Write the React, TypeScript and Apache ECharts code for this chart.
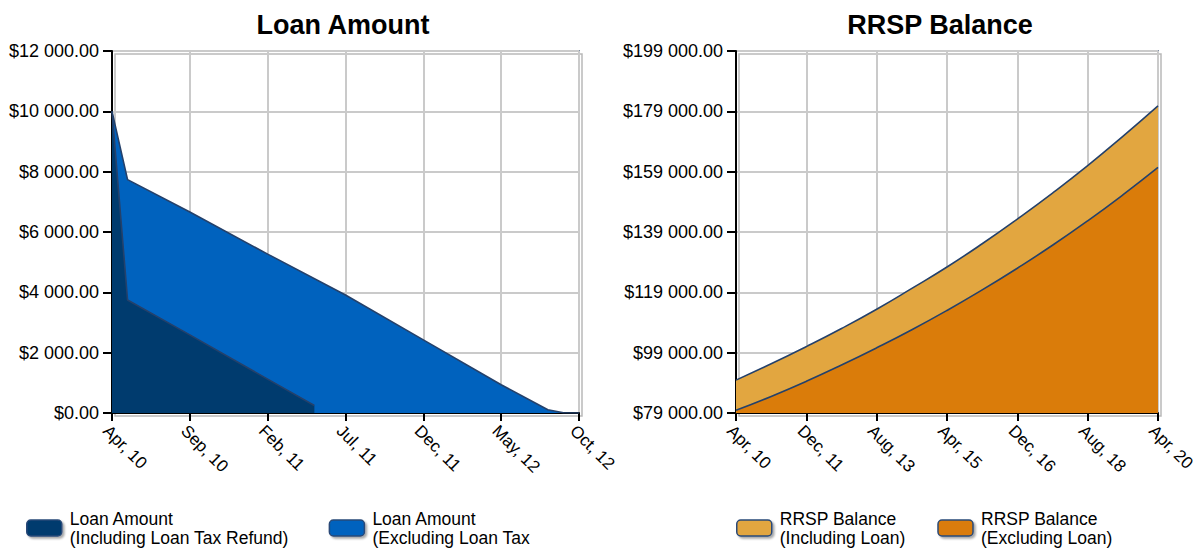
import React, { useEffect, useRef } from "react";
import * as echarts from "echarts";

// ---------- data ----------
const loanInclMonths = [0, 1, 5, 10, 13];
const loanInclValues = [10000, 3745, 2590, 1124, 251];
const loanExclMonths = [0, 1, 5, 10, 15, 20, 25, 28, 29, 30];
const loanExclValues = [10000, 7736, 6664, 5266, 3911, 2423, 936, 109, 10, 0];
const loanTickLabels = ["Apr, 10", "Sep, 10", "Feb, 11", "Jul, 11", "Dec, 11", "May, 12", "Oct, 12"];

const rrspMonths = [0, 10, 20, 30, 40, 50, 60, 70, 80, 90, 100, 110, 120];
const rrspInclValues = [89900, 95300, 101000, 107000, 113400, 120300, 127400, 135100, 143300, 151900, 161000, 170700, 180800];
const rrspExclValues = [79900, 84500, 89500, 94900, 100600, 106600, 113000, 119800, 127000, 134600, 142700, 151300, 160400];
const rrspTickLabels = ["Apr, 10", "Dec, 11", "Aug, 13", "Apr, 15", "Dec, 16", "Aug, 18", "Apr, 20"];

const loanNames = ["Loan Amount\n(Including Loan Tax Refund)", "Loan Amount\n(Excluding Loan Tax"];
const rrspNames = ["RRSP Balance\n(Including Loan)", "RRSP Balance\n(Excluding Loan)"];
const chartTitles = ["Loan Amount", "RRSP Balance"];

// ---------- styling ----------
const FONT = "'Liberation Sans', Arial, Helvetica, sans-serif";
const EDGE = "#24416B";

const money = (v: number) =>
  "$" + Math.round(v).toString().replace(/\B(?=(\d{3})+(?!\d))/g, " ") + ".00";

const zip = (xs: number[], ys: number[]) => xs.map((x, i) => [x, ys[i]]);

const gridBase = {
  top: 51,
  height: 362,
  show: true,
  borderColor: EDGE,
  borderWidth: 1.5,
  shadowColor: "rgba(0,0,0,0.28)",
  shadowOffsetX: 3,
  shadowOffsetY: 3,
  shadowBlur: 0,
  containLabel: false,
  outerBoundsMode: "none",
};

const makeXAxis = (gridIndex: number, max: number, interval: number, labels: string[]) => ({
  type: "value",
  gridIndex,
  min: 0,
  max,
  interval,
  axisLine: { show: true, onZero: false, lineStyle: { color: "#000", width: 2 } },
  axisTick: { show: true, length: 8, lineStyle: { color: "#000", width: 2 } },
  axisLabel: {
    rotate: -45,
    align: "left",
    verticalAlign: "top",
    fontSize: 17,
    color: "#000",
    fontFamily: FONT,
    margin: 9,
    showMinLabel: true,
    showMaxLabel: true,
    formatter: (v: number) => labels[Math.round(v / interval)] ?? "",
  },
  splitLine: { show: true, lineStyle: { color: "#CACACA", width: 2 } },
});

const makeYAxis = (gridIndex: number, min: number, max: number, interval: number) => ({
  type: "value",
  gridIndex,
  min,
  max,
  interval,
  axisLine: { show: true, onZero: false, lineStyle: { color: "#000", width: 2 } },
  axisTick: { show: true, length: 9, lineStyle: { color: "#000", width: 2 } },
  axisLabel: {
    fontSize: 18,
    color: "#000",
    fontFamily: FONT,
    margin: 13,
    showMinLabel: true,
    showMaxLabel: true,
    formatter: (v: number) => money(v),
  },
  splitLine: { show: true, lineStyle: { color: "#CACACA", width: 2 } },
});

const areaSeries = (
  name: string,
  idx: number,
  data: number[][],
  fill: string,
  smooth: number | boolean
) => ({
  name,
  type: "line",
  xAxisIndex: idx,
  yAxisIndex: idx,
  data,
  smooth,
  showSymbol: false,
  symbol: "none",
  color: fill,
  lineStyle: { color: EDGE, width: 1.6 },
  areaStyle: { color: fill, opacity: 1, origin: "start" },
  silent: true,
});

const legendBase = {
  orient: "horizontal",
  top: 509,
  padding: 0,
  itemWidth: 35,
  itemHeight: 16,
  icon: "roundRect",
  selectedMode: false,
  textStyle: {
    fontSize: 17.5,
    lineHeight: 19,
    color: "#000",
    fontFamily: FONT,
    padding: [0, 0, 0, 3],
  },
  itemStyle: {
    borderColor: "#2A4A78",
    borderWidth: 1.5,
    shadowColor: "rgba(0,0,0,0.35)",
    shadowOffsetX: 2,
    shadowOffsetY: 2,
    shadowBlur: 2,
  },
};

const titleStyle = { fontSize: 27, fontWeight: "bold", color: "#000", fontFamily: FONT };

export default function App() {
  const ref = useRef<HTMLDivElement>(null);

  useEffect(() => {
    if (!ref.current) return;
    const chart = echarts.init(ref.current, null, { renderer: "svg" });
    chart.setOption({
      animation: false,
      backgroundColor: "#fff",
      title: [
        { text: chartTitles[0], left: 343, top: 11, padding: 0, textAlign: "center", textStyle: titleStyle },
        { text: chartTitles[1], left: 940, top: 11, padding: 0, textAlign: "center", textStyle: titleStyle },
      ],
      grid: [
        { ...gridBase, left: 112, width: 467 },
        { ...gridBase, left: 736, width: 422 },
      ],
      xAxis: [makeXAxis(0, 30, 5, loanTickLabels), makeXAxis(1, 120, 20, rrspTickLabels)],
      yAxis: [makeYAxis(0, 0, 12000, 2000), makeYAxis(1, 79000, 199000, 20000)],
      legend: [
        { ...legendBase, left: 26, itemGap: 40, data: loanNames },
        { ...legendBase, left: 736, itemGap: 32, data: rrspNames },
      ],
      series: [
        areaSeries(loanNames[1], 0, zip(loanExclMonths, loanExclValues), "#0062BE", false),
        areaSeries(loanNames[0], 0, zip(loanInclMonths, loanInclValues), "#003B6E", false),
        areaSeries(rrspNames[0], 1, zip(rrspMonths, rrspInclValues), "#E2A640", true),
        areaSeries(rrspNames[1], 1, zip(rrspMonths, rrspExclValues), "#DA7C0A", true),
      ],
    });
    return () => chart.dispose();
  }, []);

  return (
    <div
      ref={ref}
      style={{ position: "fixed", left: 0, top: 0, width: 1198, height: 548, background: "#fff" }}
    />
  );
}
